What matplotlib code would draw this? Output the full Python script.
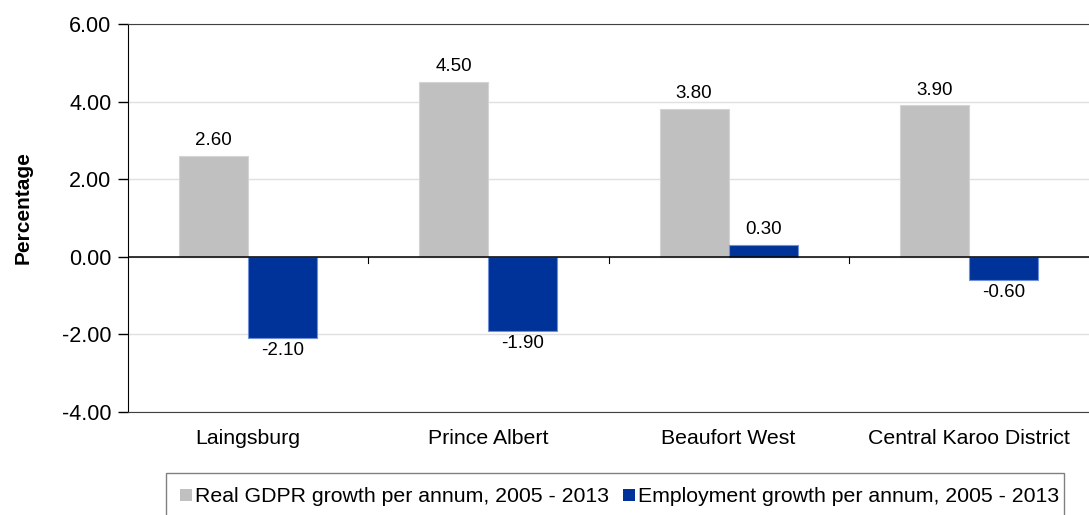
import numpy as np
import matplotlib
matplotlib.use("Agg")
import matplotlib.pyplot as plt
from matplotlib.patches import Patch, Rectangle

plt.rcParams["font.family"] = ["Liberation Sans", "DejaVu Sans"]

# Data
categories = ["Laingsburg", "Prince Albert", "Beaufort West", "Central Karoo District"]
gdpr_growth = [2.60, 4.50, 3.80, 3.90]
employment_growth = [-2.10, -1.90, 0.30, -0.60]
series_names = ["Real GDPR growth per annum, 2005 - 2013",
                "Employment growth per annum, 2005 - 2013"]

gray = "#c0c0c0"
blue = "#003399"

W, H = 1089, 515
fig = plt.figure(figsize=(W / 100, H / 100), dpi=100)
ax = fig.add_axes([128 / W, 1 - 412 / H, 1 - 128 / W, (412 - 24) / H])

x = np.arange(len(categories))
w = 0.287
b1 = ax.bar(x - w / 2, gdpr_growth, w, color=gray, edgecolor="#d4d4d4", linewidth=0.8, zorder=3)
b2 = ax.bar(x + w / 2, employment_growth, w, color=blue, edgecolor="#6f8fd8", linewidth=0.8, zorder=3)

# value labels
for bars in (b1, b2):
    for r in bars:
        v = r.get_height()
        cx = r.get_x() + r.get_width() / 2
        if v >= 0:
            ax.annotate(f"{v:.2f}", (cx, v), xytext=(0, 5), textcoords="offset points",
                        ha="center", va="bottom", fontsize=13.5)
        else:
            ax.annotate(f"{v:.2f}", (cx, v), xytext=(0, -3), textcoords="offset points",
                        ha="center", va="top", fontsize=13.5)

ax.set_xlim(-0.5, len(categories) - 0.5)
ax.set_ylim(-4, 6)
ax.set_yticks(np.arange(-4, 6.1, 2))
ax.set_yticklabels([f"{t:.2f}" for t in np.arange(-4, 6.1, 2)], fontsize=15.5)
ax.set_xticks(x)
ax.set_xticklabels(categories, fontsize=15.3)
ax.tick_params(axis="x", length=0, pad=12)
ax.tick_params(axis="y", length=7, width=1, pad=5)

ax.grid(axis="y", color="#e0e0e0", linewidth=1, zorder=0)
ax.axhline(0, color="black", linewidth=1.1, zorder=4)

# category separator ticks on the zero line
for bx in np.arange(0.5, len(categories) - 0.5, 1):
    ax.plot([bx, bx], [0, -0.17], color="black", linewidth=0.8, zorder=4)

ax.spines["right"].set_visible(False)
ax.spines["top"].set_color("#404040")
ax.spines["bottom"].set_color("#404040")
ax.spines["left"].set_color("black")

ax.set_ylabel("Percentage", fontsize=15, fontweight="bold")
ax.yaxis.set_label_coords(-0.099, 0.528)

# legend box (Excel-style, cut off at the bottom)
fig.patches.append(Rectangle((166 / W, -0.05), (1064 - 166) / W, 1 - 473 / H + 0.05,
                             transform=fig.transFigure, facecolor="white",
                             edgecolor="#808080", linewidth=1))
handles = [Patch(facecolor=gray, edgecolor="none"), Patch(facecolor=blue, edgecolor="none")]
leg = fig.legend(handles, series_names, loc="center left", ncol=2,
                 bbox_to_anchor=(180 / W, 1 - 497 / H), fontsize=15.3,
                 frameon=False, handlelength=0.56, handleheight=0.56,
                 handletextpad=0.14, columnspacing=0.66, borderpad=0, borderaxespad=0)

fig.savefig("out.png", dpi=100)
